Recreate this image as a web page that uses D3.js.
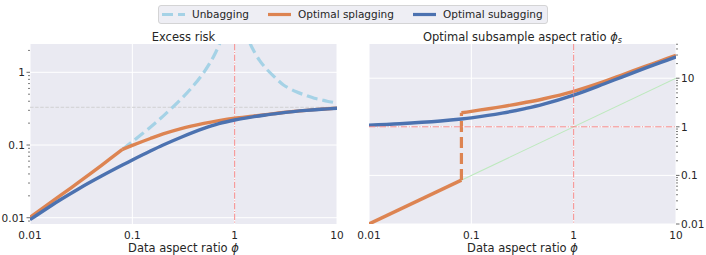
<!DOCTYPE html>
<html lang="en">
<head>
<meta charset="utf-8">
<title>Excess risk and subsample ratio</title>
<script src="https://cdn.jsdelivr.net/npm/d3@7/dist/d3.min.js"></script>
<style>
    * { margin: 0; padding: 0; }
    body { background: #fff; }
    svg text { font-family: "DejaVu Sans", sans-serif; fill: #262626; }
</style>
</head>
<body>
<svg id="chart" width="706" height="255"></svg>
<script>
// ---- data ----
// left panel: excess risk
var phi = [0.01, 0.02, 0.03, 0.05, 0.08, 0.1, 0.15, 0.2, 0.3, 0.5, 0.7, 1, 1.5, 2, 3, 5, 7, 10];
var subRisk = [0.0094, 0.0178, 0.0251, 0.0374, 0.053, 0.0622, 0.0826, 0.1, 0.128, 0.169, 0.197, 0.221, 0.244, 0.259, 0.279, 0.299, 0.31, 0.321];
var splagPhiA = [0.01, 0.02, 0.03, 0.05, 0.08];
var splagRiskA = [0.0101, 0.0204, 0.0309, 0.0526, 0.087];
var splagPhiB = [0.08, 0.1, 0.15, 0.2, 0.3, 0.5, 0.7, 1, 1.5, 2, 3, 5, 7, 10];
var splagRiskB = [0.087, 0.0989, 0.123, 0.142, 0.168, 0.198, 0.2165, 0.234, 0.249, 0.261, 0.28, 0.3, 0.311, 0.322];

var unbagPhiLow = [0.08, 0.1, 0.15, 0.2, 0.3, 0.4, 0.5, 0.6, 0.65, 0.7, 0.75, 0.8];
var unbagRiskLow = [0.087, 0.111, 0.176, 0.25, 0.429, 0.667, 1.0, 1.5, 1.86, 2.33, 3.0, 4.0];
var unbagPhiHigh = [1.25, 1.4, 1.5, 1.75, 2, 2.5, 3, 4, 5, 6, 7, 8, 10];
var unbagRiskHigh = [4.06, 2.59, 2.1, 1.46, 1.15, 0.84, 0.67, 0.54, 0.48, 0.44, 0.42, 0.4, 0.38];
var nullRisk = 0.33;

// right panel: optimal subsample aspect ratio
var phiR = [0.01, 0.02, 0.05, 0.08, 0.1, 0.2, 0.335, 0.5, 1, 2, 3, 5, 7, 10];
var subRatio = [1.08, 1.157, 1.316, 1.445, 1.528, 1.91, 2.37, 2.89, 4.48, 7.7, 10.7, 16.1, 20.9, 27.4];
var splagPhiLow = [0.01, 0.08];
var splagRatioLow = [0.01, 0.08];
var splagPhiHigh = [0.08, 0.1, 0.2, 0.335, 0.5, 1, 2, 3, 5, 7, 10];
var splagRatioHigh = [1.95, 2.08, 2.6, 3.16, 3.74, 5.37, 8.6, 11.8, 17.5, 22.6, 29.5];
var jumpPhi = [0.08, 0.08];
var jumpRatio = [0.08, 1.95];
var diagPhi = [0.01, 10];
var diagRatio = [0.01, 10];

var xTicks = [0.01, 0.1, 1, 10];
var xTickLabels = ["0.01", "0.1", "1", "10"];
var riskTicks = [0.01, 0.1, 1];
var ratioTicks = [0.01, 0.1, 1, 10];

// ---- styling ----
var cUnbag = "#a5d2e6", cSplag = "#dd8452", cSub = "#4c72b0";
var cRed = "#f58a8a", cGreen = "#bde9bd", bg = "#eaeaf2";

var svg = d3.select("#chart");
var plotTop = 44, plotBottom = 224;

function minorTicks(domain) {
    var out = [];
    for (var e = -3; e <= 2; e++) {
        for (var k = 2; k <= 9; k++) {
            var v = k * Math.pow(10, e);
            if (v >= domain[0] && v <= domain[1]) out.push(v);
        }
    }
    return out;
}

function panel(opt) {
    var x = d3.scaleLog().domain([0.01, 10]).range([opt.left, opt.right]);
    var y = d3.scaleLog().domain(opt.yDomain).range([plotBottom, plotTop]);
    var g = svg.append("g");

    g.append("rect")
        .attr("x", opt.left).attr("y", plotTop)
        .attr("width", opt.right - opt.left).attr("height", plotBottom - plotTop)
        .attr("fill", bg);

    g.append("clipPath").attr("id", opt.id)
        .append("rect")
        .attr("x", opt.left).attr("y", plotTop)
        .attr("width", opt.right - opt.left).attr("height", plotBottom - plotTop);

    // grid
    g.selectAll(".vg").data(xTicks).enter().append("line")
        .attr("x1", d => x(d)).attr("x2", d => x(d))
        .attr("y1", plotTop).attr("y2", plotBottom)
        .attr("stroke", "#fff").attr("stroke-width", 1);
    g.selectAll(".hg").data(opt.yTicks).enter().append("line")
        .attr("x1", opt.left).attr("x2", opt.right)
        .attr("y1", d => y(d)).attr("y2", d => y(d))
        .attr("stroke", "#fff").attr("stroke-width", 1);

    // x tick labels
    g.selectAll(".xl").data(xTicks).enter().append("text")
        .attr("x", d => x(d)).attr("y", 239)
        .attr("text-anchor", "middle").attr("font-size", 10.5)
        .text((d, i) => xTickLabels[i]);

    // y axis on requested side
    var side = opt.axisRight ? 1 : -1;
    var ax = opt.axisRight ? opt.right : opt.left;
    g.selectAll(".ym").data(minorTicks(opt.yDomain)).enter().append("line")
        .attr("x1", ax).attr("x2", ax + side * 2)
        .attr("y1", d => y(d)).attr("y2", d => y(d))
        .attr("stroke", "#444").attr("stroke-width", 0.7);
    g.selectAll(".yM").data(opt.yTicks).enter().append("line")
        .attr("x1", ax).attr("x2", ax + side * 3.5)
        .attr("y1", d => y(d)).attr("y2", d => y(d))
        .attr("stroke", "#444").attr("stroke-width", 0.8);
    g.selectAll(".yl").data(opt.yTicks).enter().append("text")
        .attr("x", ax + side * 5)
        .attr("y", d => y(d) + 3.8)
        .attr("text-anchor", opt.axisRight ? "start" : "end")
        .attr("font-size", 10.5)
        .text(d => String(d));

    // axis title
    var xl = g.append("text")
        .attr("x", (opt.left + opt.right) / 2).attr("y", 252)
        .attr("text-anchor", "middle").attr("font-size", 11.5);
    xl.append("tspan").text("Data aspect ratio ");
    xl.append("tspan").attr("font-style", "italic").text("\u03d5");

    var plot = g.append("g").attr("clip-path", "url(#" + opt.id + ")");
    return { x: x, y: y, g: g, plot: plot };
}

function addLine(p, xs, ys, color, width, dash) {
    var line = d3.line().x(d => p.x(d[0])).y(d => p.y(d[1])).curve(d3.curveCatmullRom.alpha(0.5));
    var path = p.plot.append("path")
        .attr("d", line(d3.zip(xs, ys)))
        .attr("fill", "none")
        .attr("stroke", color)
        .attr("stroke-width", width)
        .attr("stroke-linejoin", "round");
    if (dash) path.attr("stroke-dasharray", dash);
    return path;
}

function refLine(p, x1, x2, y1, y2) {
    p.plot.append("line")
        .attr("x1", x1).attr("x2", x2).attr("y1", y1).attr("y2", y2)
        .attr("stroke", cRed).attr("stroke-width", 1).attr("stroke-dasharray", "6.4,1.6,1,1.6");
}

// ---- left: excess risk ----
var L = panel({ id: "clipL", left: 30, right: 337, yDomain: [0.0082, 2.45], yTicks: riskTicks, axisRight: false });
L.plot.append("line")
    .attr("x1", 30).attr("x2", 337)
    .attr("y1", L.y(nullRisk)).attr("y2", L.y(nullRisk))
    .attr("stroke", "#cfcfcf").attr("stroke-width", 0.9).attr("stroke-dasharray", "3.5,1.6");
refLine(L, L.x(1), L.x(1), plotTop, plotBottom);
addLine(L, unbagPhiLow, unbagRiskLow, cUnbag, 3.2, "11,5");
addLine(L, unbagPhiHigh, unbagRiskHigh, cUnbag, 3.2, "11,5");
addLine(L, splagPhiA, splagRiskA, cSplag, 3.4);
addLine(L, splagPhiB, splagRiskB, cSplag, 3.4);
addLine(L, phi, subRisk, cSub, 3.4);
L.g.append("text").attr("x", 183.5).attr("y", 40.5)
    .attr("text-anchor", "middle").attr("font-size", 11.5).text("Excess risk");

// ---- right: optimal subsample aspect ratio ----
var R = panel({ id: "clipR", left: 369, right: 676, yDomain: [0.01, 50.6], yTicks: ratioTicks, axisRight: true });
addLine(R, diagPhi, diagRatio, cGreen, 1.1);
addLine(R, splagPhiLow, splagRatioLow, cSplag, 3.4);
addLine(R, jumpPhi, jumpRatio, cSplag, 3.2, "11,5");
addLine(R, splagPhiHigh, splagRatioHigh, cSplag, 3.4);
addLine(R, phiR, subRatio, cSub, 3.4);
refLine(R, R.x(1), R.x(1), plotTop, plotBottom);
refLine(R, 369, 676, R.y(1), R.y(1));
var rt = R.g.append("text").attr("x", 522.5).attr("y", 40.5)
    .attr("text-anchor", "middle").attr("font-size", 11.5);
rt.append("tspan").text("Optimal subsample aspect ratio ");
rt.append("tspan").attr("font-style", "italic").text("\u03d5");
rt.append("tspan").attr("font-style", "italic").attr("font-size", 8).attr("dy", 2.5).text("s");

// ---- legend ----
var legendNames = ["Unbagging", "Optimal splagging", "Optimal subagging"];
var legendColors = [cUnbag, cSplag, cSub];
var legendX = [162, 268, 413];
var lg = svg.append("g");
lg.append("rect").attr("x", 158.5).attr("y", 5.5).attr("width", 389).attr("height", 18)
    .attr("rx", 2.5).attr("fill", "#eeeef4").attr("stroke", "#cccccc").attr("stroke-width", 0.8);
legendNames.forEach(function (name, i) {
    var h = lg.append("line")
        .attr("x1", legendX[i]).attr("x2", legendX[i] + 23)
        .attr("y1", 14.5).attr("y2", 14.5)
        .attr("stroke", legendColors[i]).attr("stroke-width", 3.2);
    if (i === 0) h.attr("stroke-dasharray", "11,5");
    lg.append("text").attr("x", legendX[i] + 30).attr("y", 18.3)
        .attr("font-size", 10.5).text(name);
});
</script>
</body>
</html>
